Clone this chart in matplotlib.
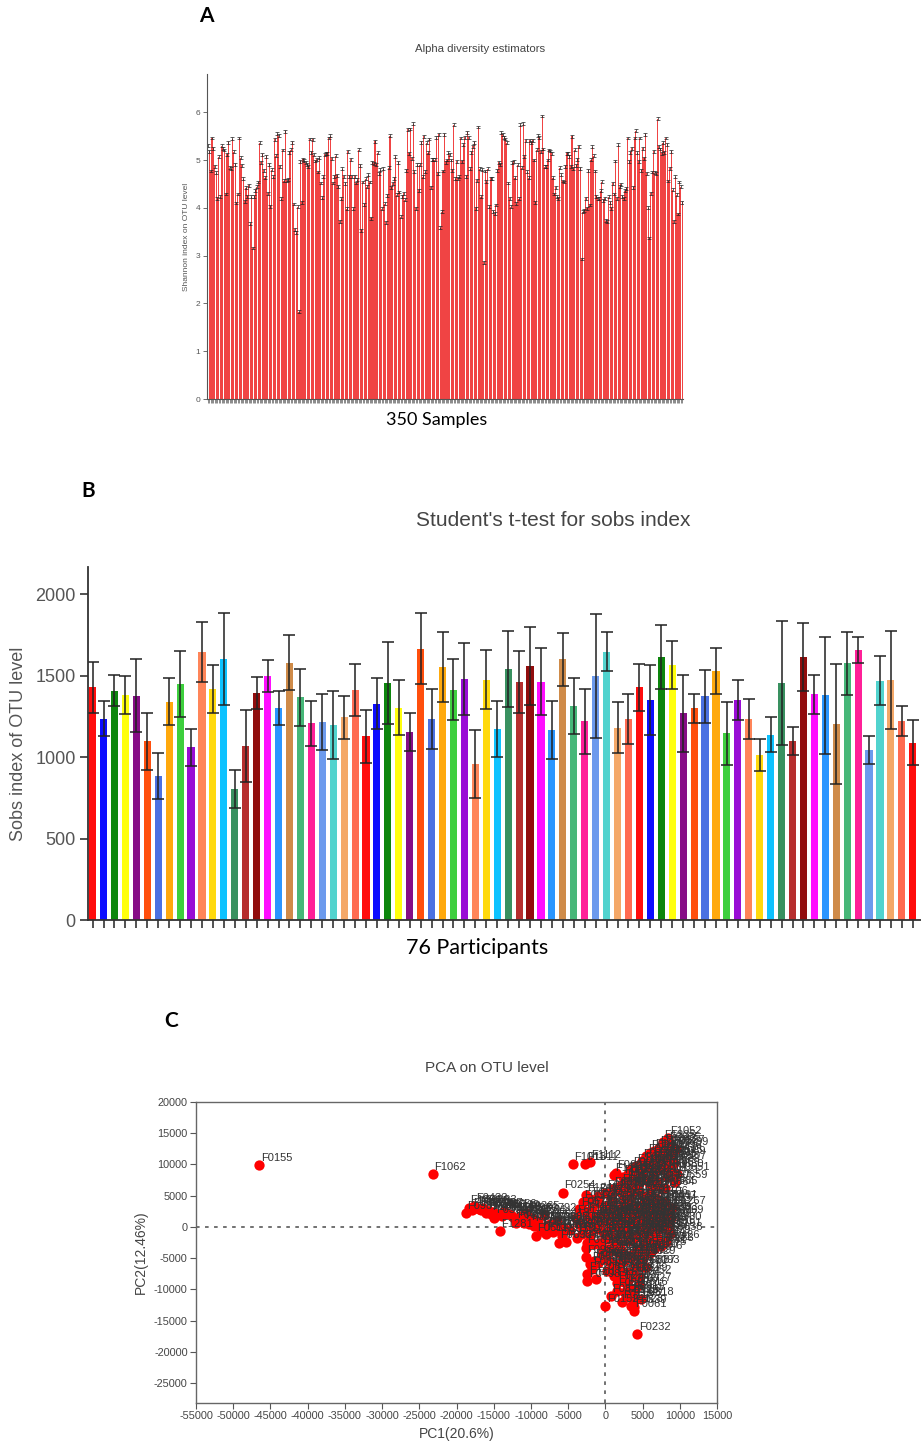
import matplotlib
matplotlib.use("Agg")
import matplotlib.pyplot as plt
import numpy as np

plt.rcParams['font.family'] = ['Liberation Sans', 'DejaVu Sans']
plt.rcParams['axes.unicode_minus'] = False

# ---------------- data ----------------
# A: Shannon index, 350 samples
shannon = [
    5.30, 5.18, 4.77, 5.46, 5.25, 4.87, 4.73, 4.20, 5.07, 4.23,
    5.30, 5.25, 5.21, 4.29, 5.12, 5.37, 4.84, 4.82, 5.45, 5.17,
    4.91, 4.10, 4.29, 5.46, 5.05, 4.89, 4.61, 4.14, 4.42, 4.24,
    4.47, 3.67, 4.23, 3.16, 4.24, 4.37, 4.44, 4.54, 5.36, 4.95,
    5.12, 4.79, 4.63, 5.08, 4.30, 4.91, 4.03, 4.80, 4.65, 5.43,
    5.09, 5.55, 5.51, 4.87, 4.19, 5.21, 4.57, 5.60, 4.58, 4.59,
    5.16, 5.22, 5.37, 4.08, 3.55, 3.48, 4.02, 1.83, 4.97, 4.12,
    5.02, 4.99, 4.94, 4.91, 4.87, 5.44, 5.16, 5.43, 5.11, 4.98,
    5.02, 4.75, 5.05, 4.52, 4.21, 4.65, 5.12,
    5.14, 5.14, 5.46, 5.51, 5.04, 4.52, 4.66, 5.09, 4.68,
    4.45, 3.72, 4.19, 4.82, 4.66, 4.51, 3.98, 5.18, 4.66, 5.02,
    4.66, 3.98, 4.66, 4.52, 4.59, 5.22, 4.89, 3.53, 4.54, 4.07,
    4.61, 4.44, 4.69, 4.54, 3.78, 4.95, 4.93, 5.39, 4.91, 5.15,
    4.72, 4.80, 3.98, 4.82, 4.09, 3.70, 4.26, 4.84, 5.51, 4.43,
    4.51, 4.62, 5.07, 4.27, 4.95, 4.33, 3.81, 4.24, 4.30, 4.17,
    4.79, 5.64, 5.14, 5.65, 5.04, 5.76, 4.76, 3.99, 4.90, 4.37,
    4.90, 5.37, 4.65, 5.50, 4.76, 5.36, 5.15, 5.44, 4.43, 5.01,
    5.01, 5.01, 5.47, 4.72, 5.54, 3.58, 3.92, 4.77, 5.54,
    4.95, 5.00, 5.15, 5.11, 5.00, 4.79, 5.74, 4.61, 4.97, 4.62,
    4.65, 5.46, 4.97, 5.32, 5.48, 4.66, 5.58, 5.48, 4.82, 5.16,
    5.29, 5.37, 3.99, 4.58, 5.69, 4.82, 4.23, 4.80, 2.86, 4.77,
    4.55, 4.82, 4.02, 4.62, 4.62, 3.93, 3.88, 4.06, 4.79, 4.95,
    4.91, 5.57, 5.54, 5.48, 5.44, 5.36, 4.52, 4.20, 4.02, 4.94,
    4.97, 4.63, 4.09, 4.90, 4.19, 5.74, 4.84, 5.76, 5.07, 5.41,
    4.76, 4.63, 5.41, 5.37, 5.41, 5.00, 4.12, 5.22, 5.51, 5.47,
    5.18, 5.92, 5.23, 4.86, 4.86, 5.00, 5.21, 5.19, 5.14, 4.63,
    4.29, 4.43, 4.23, 4.20, 4.84, 4.69, 4.56, 4.54, 4.87, 5.14,
    5.14, 5.08, 4.87, 5.50, 4.82, 5.22, 4.89, 5.02, 5.29, 4.83,
    2.93, 3.92, 3.95, 4.20, 3.99, 4.79, 4.06, 5.01, 5.28, 5.09,
    4.77, 4.24, 4.20, 4.19, 4.36, 4.55, 4.16, 4.20, 3.73, 3.71,
    4.23, 4.12, 3.99, 4.51, 4.29, 4.98, 4.20, 5.32, 4.44, 4.49,
    4.24, 4.20, 4.36, 4.41, 5.46, 4.97, 5.16, 5.25, 4.43, 5.46,
    5.61, 5.15, 4.97, 5.46, 4.79, 5.25, 5.04, 5.54, 4.72, 4.00,
    3.37, 4.30, 4.75, 5.18, 4.73, 4.72, 5.86, 5.29, 5.23, 5.14,
    5.36, 5.16, 5.46, 5.33, 4.56, 4.83, 5.18, 4.38, 3.72, 4.65,
    4.27, 3.87, 4.54, 4.44, 4.12,
]
shannon_err = 0.03

# B: sobs index, 76 participants
sobs_mean = [1427, 1235, 1407, 1382, 1376, 1096, 883, 1339, 1448, 1059,
             1644, 1417, 1601, 806, 1069, 1395, 1497, 1303, 1579, 1366,
             1207, 1215, 1196, 1243, 1411, 1127, 1327, 1454, 1303, 1151,
             1665, 1233, 1552, 1413, 1476, 957, 1474, 1172, 1540, 1460,
             1560, 1462, 1166, 1599, 1313, 1219, 1497, 1646, 1180, 1233,
             1427, 1352, 1614, 1564, 1268, 1299, 1372, 1530, 1147, 1352,
             1233, 1014, 1137, 1452, 1098, 1614, 1384, 1378, 1202, 1575,
             1656, 1045, 1468, 1474, 1221, 1088]
sobs_err = [158, 107, 94, 115, 223, 176, 139, 144, 204, 113,
            182, 145, 284, 116, 221, 98, 96, 104, 167, 174,
            139, 172, 209, 133, 158, 161, 156, 254, 167, 117,
            216, 184, 217, 186, 221, 209, 182, 170, 235, 190,
            240, 207, 176, 164, 172, 198, 378, 121, 157, 154,
            144, 215, 194, 148, 237, 88, 162, 141, 193, 122,
            121, 99, 108, 380, 86, 210, 119, 358, 367, 192,
            78, 86, 150, 301, 90, 137]
palette = ['#FF0000', '#0000FF', '#008000', '#FFFF00', '#800080', '#FF4500',
           '#4169E1', '#FFA500', '#32CD32', '#9400D3', '#FF7F50', '#FFD700',
           '#00BFFF', '#2E8B57', '#B22222', '#8B0000', '#FF00FF', '#1E90FF',
           '#CD853F', '#3CB371', '#FF1493', '#6495ED', '#48D1CC', '#F4A460',
           '#FF6347']

# C: PCA scores (first set)
ids_a = ("F0155 F1062 "
         "F0981 F1301 F0433 F1031 F0872 F0215 F1087 F0644 F0302 F1281 "
         "F0756 F1143 F0529 F0088 F1198 F0917 F0365 F0885 F1264 F0611 "
         "F0047 F0792 F1009 F0258 F1176 F0413 F0690 F1035 F0327 F0846 "
         "F1011 F1311 F1112 F0254 F1245 F0573 "
         "F1052 F1225 F0622 F1002 F0913 F0408 F0731 F1157 F0066 F0389 "
         "F0972 F0604 F1226 F0143 F0520 F0877 F1092 F0285 F0699 F1014 "
         "F0351 F0812 F1183 F0467 F0236 F0958 F0102 F1239 F0585 F0744 "
         "F0196 F1069 F0630 F0421 F0864 F1106 F0017 F0538 F0925 F0272 "
         "F0119 F0487 F0803 F1125 F0342 F0666 F0998 F0214 F0570 F0901 "
         "F1233 F0075 F0438 F0761 F1089 F0306 F0652 F0987 F1214 F0129 "
         "F0455 F0788 F1120 F0251 F0593 F0930 F1267 F0038 F0374 F0717 "
         "F1048 F0163 F0509 F0849 F1181 F0222 F0566 F0893 F1219 F0101 "
         "F0447 F0780 F1113 F0246 F0582 F0919 F1256 F0023 F0361 F0704 "
         "F1041 F0178 F0514 F0857 F1190 F0233 F0577 F0908 F1244 F0092 "
         "F0426 F0769 F1101 F0241 F0598 F0936 F1273 F0054 F0390 F0727 "
         "F0614 F0983 F1206 F0498 F0174 F0152 F0829 F0391 F1123 F0061 "
         "F0232 F0718 F1154 F0305 F0943 F0681 F1078 F0029 F0452 F0816 "
         "F1167 F0274 F0539 F0895 F1229 F0063 F0407 F0746 F1093 F0318 "
         "F0655 F0992 F1237 F0118 F0481").split()
pc1_a = [-46500, -23200,
         -18700, -18300, -17600, -17000, -16700, -16000, -15600, -15400, -14900, -14200,
         -13600, -13000, -12700, -12000, -11500, -11000, -10600, -10200, -9800, -9300,
         -8700, -8300, -8000, -7500, -7000, -6500, -6200, -5800, -5300, -4800,
         -4400, -2700, -2100, -5700, -2600, -3500,
         8450, 7700, 7200, 6500, 6000, 5500, 4900, 4100, 3500, 3000,
         2400, 1400, 1100, 7800, 7000, 6200, 8000, 7500, 5000, 6500,
         4000, 5800, 3000, 7000, 4500, 2000, 6000, 3500, 8000, 1800,
         8500, 9000, 8800, 8300, 7600, 6800, 5200, 2500, 800, -800,
         -4000, -3500, -3000, -2500, -2000, -1500, -1000, -500, 0, 500,
         1000, 1500, 2000, 2500, 3000, 3500, 4000, 4500, 5000, 5500,
         6000, 6500, 7000, 7500, 8000, 8500, 9000, 8700, -3800, -2800,
         -1800, -800, 200, 1200, 2200, 3200, 4200, 5200, 6200, 7200,
         7800, 6800, 5800, 4800, 3800, 2800, 1800, 800, -200, -1200,
         -2200, -3200, 300, 1300, 2300, 3300, 4300, 5300, 6300, 7300,
         8200, 8800, -600, 600, 1600, 2600, 3600, 4600, 5600, 6600,
         -2600, -2600, -2400, -2400, -1300, 0, 700, 2700, 3400, 3850,
         4300, 2000, 3200, 1000, 2500, 4000, 3500, 5000, 4500, 4000,
         3000, 1500, 3800, -1500, -500, 500, 1800, 6000, 5500, 4800,
         -1800, 200, 3600, 2200, 6500]
pc2_a = [9900, 8400,
         2200, 3100, 3400, 2900, 2700, 2300, 2600, 2000, 1500, -700,
         2500, 2100, 1900, 700, 1800, 1200, 2200, 400, 1500, -1400,
         -600, 1900, -1200, 500, -800, 1000, -2500, -1500, -2400, -500,
         10100, 10100, 10400, 5500, 5100, 2800,
         14200, 13600, 12600, 12200, 11900, 11300, 10600, 9800, 9200, 8500,
         8000, 8700, 8300, 11500, 10800, 10000, 10200, 9200, 8200, 8500,
         7300, 7000, 6300, 7200, 5800, 6000, 5500, 4800, 6200, 5800,
         12000, 11000, 9000, 8000, 6000, 4600, 4000, 3800, 4800, 3800,
         1500, 500, -500, 1800, -1500, 800, -300, 2200, 1000, -800,
         2500, 300, -1200, 1600, -300, 2600, 600, -900, 1800, 300,
         -1000, 2400, 1000, -200, 2000, 500, 3000, -1200, -1800, 2600,
         3000, -2500, -2000, -3000, 3200, -2200, 3400, -2500, 3600, -2800,
         3800, -400, 1200, -300, 1700, 900, 1900, 700, -900, 1600,
         300, -1200, 3500, -1800, -3800, 4200, -3500, 3000, -2000, 2800,
         -2400, 1500, 600, -300, 1200, -700, -1500, 2500, -1400, 1300,
         -3300, -4900, -7600, -8700, -8400, -12700, -11100, -10500, -12700, -13500,
         -17100, -7600, -8400, -6500, -5500, -6500, -4500, -5000, -8000, -10000,
         -9500, -9000, -12800, -5500, -4500, -3800, -4200, -4200, -6500, -11500,
         -6800, -7000, -11300, -12000, -3200]

# C: PCA scores (second set)
ids_b = ("F0003 F0011 F0019 F0027 F0035 F0043 F0051 F0059 F0067 F0079 "
         "F0083 F0091 F0099 F0107 F0115 F0123 F0131 F0139 F0147 F0159 "
         "F0167 F0175 F0183 F0191 F0199 F0207 F0219 F0227 F0239 F0247 "
         "F0255 F0263 F0271 F0279 F0287 F0295 F0303 F0311 F0319 F0331 "
         "F0339 F0347 F0355 F0363 F0371 F0379 F0387 F0395 F0403 F0411 "
         "F0419 F0427 F0435 F0443 F0451 F0459 F0469 F0475 F0483 F0491 "
         "F0499 F0507 F0515 F0523 F0531 F0547 F0555 F0563 F0571 F0579 "
         "F0587 F0595 F0603 F0613 F0619 F0627 F0635 F0643 F0651 F0659 "
         "F0667 F0675 F0683 F0691 F0703 F0711 F0719 F0729 F0735 F0743 "
         "F0751 F0759 F0767 F0775 F0783 F0791 F0799 F0807 F0815 F0823 "
         "F0831 F0839 F0847 F0855 F0863 F0871 F0879 F0887 F0897 F0903 "
         "F0911 F0927 F0935 F0951 F0967").split()
pc1_b = [-3000, -2000, -1000, 0, 1000, 2000, 3000, 4000, 5000, 6000,
         7000, 8000, -2500, -1500, -500, 500, 1500, 2500, 3500, 4500,
         5500, 6500, 7500, 8500, -2000, -1000, 0, 1000, 2000, 3000,
         4000, 5000, 6000, 7000, 8000, -1500, -500, 500, 1500, 2500,
         3500, 4500, 5500, 6500, 7500, 0, 1000, 2000, 3000, 4000,
         5000, 6000, 7000, 2500, 3500, 4500, 5500, 6500, 1500, 500,
         9500, 9200, 8700, 8200, 7700, 7200, 6700, 6200, 5700, 5200,
         4700, 4200, 3700, 3200, 2700, 8900, 8400, 7900, 9600, 9300,
         -17900, -17300, -16400, -15800, -15100, -14500, -13900, -13300, -12300, -11800,
         -10900, -10400, -9600, -9000, -8500, -7800, -7200, -6700, -6000, -5500,
         -2000, -1000, 0, 1000, 2000, 3000, 4000, 5000, 1500, 2500,
         3500, 4500, 2800, 3900, 1200]
pc2_b = [4000, 4500, 5000, 5500, 6000, 6500, 7000, 6000, 5000, 4000,
         3500, 4000, -2500, -2800, -3200, -3500, -4000, -4500, -5000, -4800,
         -4000, -3500, -3000, -600, 500, 1200, -1500, 1800, -400, 2200,
         -1800, 600, -700, -1600, 900, -400, 1500, 2000, -2600, 2800,
         400, 1000, 2000, 300, 1600, 3200, 4200, -2800, -1800, 2500,
         -700, 800, 2000, 5000, 6000, 7000, 7500, 6500, -6000, -5500,
         12500, 10200, 11200, 9800, 10500, 11700, 9400, 10800, 9600, 10100,
         8900, 8600, 8000, 7600, 7000, 12800, 13200, 13000, 8500, 7200,
         2700, 3000, 3100, 2500, 2400, 2000, 1800, 2300, 1400, 1000,
         600, 1600, 200, 800, -300, 200, -300, 400, -800, -200,
         -6000, -5800, -5200, -6000, -6800, -7200, -7800, -6500, -10200, -8800,
         -10800, -9300, -11300, -11800, -7800]

sample_ids = ids_a + ids_b
pc1 = pc1_a + pc1_b
pc2 = pc2_a + pc2_b

# ---------------- layout ----------------
W, H = 921, 1450


def box(l, t, r, b):
    return [l / W, 1 - b / H, (r - l) / W, (b - t) / H]


def ftext(x, y, s, **kw):
    fig.text(x / W, 1 - y / H, s, ha='center', va='center', **kw)


fig = plt.figure(figsize=(W / 100, H / 100), dpi=100)

# ---------- Panel A ----------
axA = fig.add_axes(box(207, 74, 683, 399))
xa = np.arange(len(shannon))
axA.bar(xa, shannon, width=0.8, color='#ee2a2a', alpha=0.88, linewidth=0)
axA.errorbar(xa, shannon, yerr=shannon_err, fmt='none', ecolor='#222222',
             elinewidth=0.5, capsize=1.2, capthick=0.5)
axA.set_xlim(-0.7, len(shannon) - 0.3)
axA.set_ylim(0, 6.8)
axA.set_yticks(range(7))
axA.set_xticks(xa)
axA.set_xticklabels([])
axA.tick_params(axis='x', length=3, width=0.4, color='#333333')
axA.tick_params(axis='y', length=3, width=0.6, color='#555555',
                labelsize=6, labelcolor='#555555', pad=2)
for s in ['top', 'right']:
    axA.spines[s].set_visible(False)
axA.spines['left'].set_color('#555555')
axA.spines['bottom'].set_color('#555555')
axA.set_ylabel('Shannon index on OTU level', fontsize=6, color='#555555', labelpad=4)
ftext(480, 49, 'Alpha diversity estimators', fontsize=8.2, color='#444444')
ftext(437, 420, '350 Samples', fontsize=13, family='Lato')
ftext(206, 16, 'A', fontsize=15, fontweight='bold', family='Lato')

# ---------- Panel B ----------
axB = fig.add_axes(box(88, 567, 921, 920))
xb = np.arange(len(sobs_mean))
bar_colors = [palette[i % len(palette)] for i in xb]
axB.bar(xb, sobs_mean, width=0.65, color=bar_colors, linewidth=0, alpha=0.95)
axB.errorbar(xb, sobs_mean, yerr=sobs_err, fmt='none', ecolor='#222222',
             elinewidth=1.3, capsize=4.2, capthick=1.3, alpha=0.85)
axB.set_xlim(-0.42, len(sobs_mean) - 0.25)
axB.set_ylim(0, 2166)
axB.set_yticks([0, 500, 1000, 1500, 2000])
axB.set_xticks(xb)
axB.set_xticklabels([])
axB.tick_params(axis='x', length=6, width=1.2, color='#333333')
axB.tick_params(axis='y', length=6, width=1.2, color='#333333',
                labelsize=13, labelcolor='#555555', pad=3)
for s in ['top', 'right']:
    axB.spines[s].set_visible(False)
axB.spines['left'].set_linewidth(1.3)
axB.spines['bottom'].set_linewidth(1.3)
axB.spines['left'].set_color('#333333')
axB.spines['bottom'].set_color('#333333')
axB.set_ylabel('Sobs index of OTU level', fontsize=13, color='#555555', labelpad=6)
ftext(553, 520, "Student's t-test for sobs index", fontsize=15, color='#444444')
ftext(477, 948, '76 Participants', fontsize=15.5, family='Lato')
ftext(88, 491, 'B', fontsize=15, fontweight='bold', family='Lato')

# ---------- Panel C ----------
axC = fig.add_axes(box(196, 1102, 717, 1403))
axC.axhline(0, color='#666666', ls=(0, (2, 3)), lw=1.3, zorder=1)
axC.axvline(0, color='#666666', ls=(0, (2, 3)), lw=1.3, zorder=1)
axC.scatter(pc1, pc2, s=55, color='#ff0000', linewidths=0, zorder=3)
for sid, xv, yv in zip(sample_ids, pc1, pc2):
    axC.annotate(sid, (xv, yv), xytext=(1, 3), textcoords='offset points',
                 fontsize=8, color='#333333', zorder=4)
axC.set_xlim(-55000, 15000)
axC.set_ylim(-28200, 20000)
axC.set_xticks(np.arange(-55000, 15001, 5000))
axC.set_yticks(np.arange(-25000, 20001, 5000))
axC.tick_params(length=4, width=0.8, color='#555555', labelsize=7.8,
                labelcolor='#444444', pad=2)
for s in axC.spines.values():
    s.set_color('#666666')
    s.set_linewidth(1.0)
axC.set_xlabel('PC1(20.6%)', fontsize=10, color='#444444', labelpad=4)
axC.set_ylabel('PC2(12.46%)', fontsize=10, color='#444444', labelpad=4)
ftext(487, 1068, 'PCA on OTU level', fontsize=11, color='#444444')
ftext(171, 1021, 'C', fontsize=15, fontweight='bold', family='Lato')

fig.savefig('out.png', dpi=100)
